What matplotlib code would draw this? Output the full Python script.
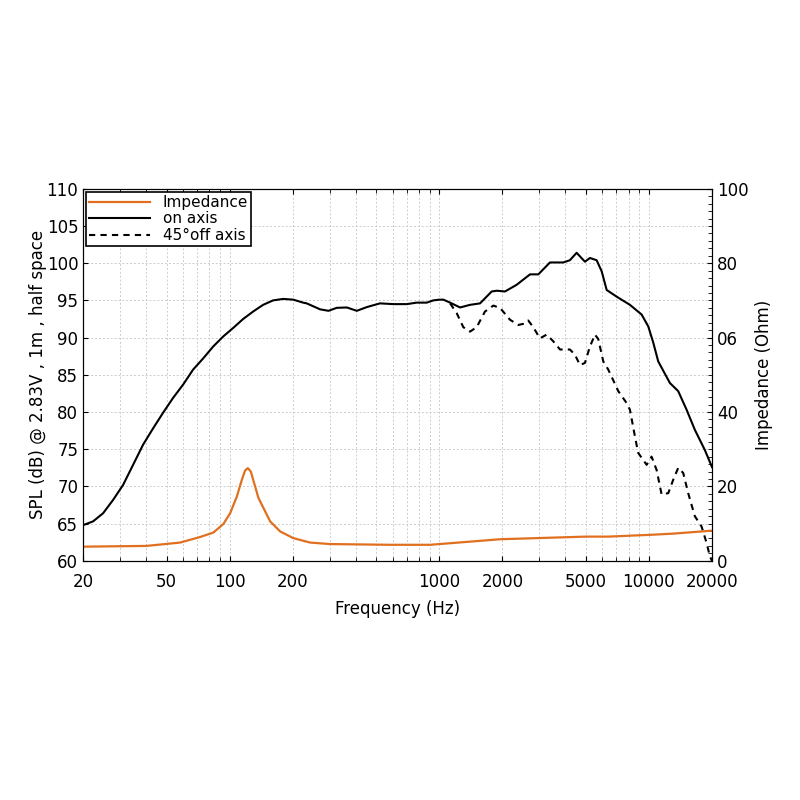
# SPL / impedance chart
import matplotlib.pyplot as plt
import numpy as np
from matplotlib.ticker import FixedLocator, NullFormatter, MultipleLocator

# on axis SPL (dB)
f_on = [20, 22.3, 24.9, 27.8, 31.0, 34.6, 38.6, 43.1, 48.1, 53.7, 60.0, 66.9, 74.7, 83.4,
        93.1, 103.9, 115.9, 129.3, 144.3, 161, 180, 201, 224, 233, 270, 296, 324, 362,
        404, 451, 521, 604, 700, 780, 871, 936, 1000, 1046, 1126, 1256, 1400, 1564, 1778,
        1880, 2058, 2339, 2709, 2968, 3373, 3903, 4198, 4520, 4952, 5232, 5632, 5954,
        6288, 7020, 8120, 9232, 9932, 10496, 11078, 12592, 13800, 15130, 16570, 18480,
        20000]
spl_on = [64.8, 65.3, 66.4, 68.2, 70.2, 72.9, 75.6, 77.8, 79.9, 81.9, 83.7, 85.7, 87.2,
          88.8, 90.15, 91.3, 92.5, 93.5, 94.4, 95.0, 95.2, 95.1, 94.7, 94.6, 93.8, 93.6,
          94.0, 94.05, 93.6, 94.1, 94.6, 94.5, 94.5, 94.7, 94.7, 95.0, 95.1, 95.1, 94.7,
          94.05, 94.4, 94.6, 96.2, 96.3, 96.2, 97.1, 98.5, 98.5, 100.1, 100.1, 100.4,
          101.4, 100.2, 100.7, 100.4, 98.9, 96.4, 95.5, 94.4, 93.1, 91.5, 89.3, 86.8, 83.9,
          82.8, 80.3, 77.6, 74.9, 72.6]

# 45 deg off axis SPL (dB)
f_off = [1126, 1210, 1302, 1400, 1508, 1651, 1810, 1948, 2174, 2382, 2564, 2657, 2807,
         3020, 3252, 3498, 3766, 4198, 4438, 4690, 4952, 5232, 5528, 5734, 6058, 6400,
         7144, 7830, 8120, 8578, 8892, 9754, 10300, 10886, 11500, 12372, 13066, 13800,
         14580, 15394, 16560, 17838, 18848, 19540, 20000]
spl_off = [94.6, 93.3, 91.4, 90.8, 91.4, 93.5, 94.3, 94.0, 92.4, 91.7, 91.9, 92.3, 91.4,
           89.9, 90.4, 89.5, 88.4, 88.4, 87.7, 86.3, 86.6, 88.8, 90.4, 89.8, 86.8, 85.7,
           82.8, 81.2, 80.3, 76.7, 74.5, 72.9, 74.0, 72.2, 68.9, 69.1, 70.9, 72.5, 71.8,
           69.1, 66.0, 64.6, 62.4, 60.6, 60.0]

# impedance (Ohm)
f_imp = [20, 40, 58, 72.3, 83.6, 93.3, 100.5, 108.2, 114.3, 118.5, 122, 126.1, 130.8,
         137.1, 144.9, 155.9, 174, 201, 242, 301, 583, 903, 1960, 5000, 6400, 10300,
         13000, 20000]
imp = [3.8, 4.0, 4.9, 6.4, 7.6, 9.9, 12.8, 17.3, 21.8, 24.3, 24.9, 24.0, 20.9, 16.9,
       14.2, 10.6, 7.9, 6.1, 4.9, 4.5, 4.3, 4.3, 5.8, 6.5, 6.5, 7.0, 7.3, 8.1]

x_ticks = [20, 50, 100, 200, 1000, 2000, 5000, 10000, 20000]
imp_ticks = [0, 20, 40, 60, 80, 100]
imp_labels = ["0", "20", "40", "06", "80", "100"]

orange = "#e0701f"

fig = plt.figure(figsize=(8, 8), dpi=100)
ax = fig.add_axes([0.104, 0.299, 0.786, 0.465])
ax2 = ax.twinx()

l_imp, = ax2.plot(f_imp, imp, color=orange, lw=1.6, label="Impedance")
l_on, = ax.plot(f_on, spl_on, color="black", lw=1.5, label="on axis")
l_off, = ax.plot(f_off, spl_off, color="black", lw=1.5, ls=(0, (3, 2.5)), label="45°off axis")

ax.set_xscale("log")
ax.set_xlim(20, 20000)
ax.set_ylim(60, 110)
ax.xaxis.set_major_locator(FixedLocator(x_ticks))
ax.set_xticklabels([str(t) for t in x_ticks])
ax.xaxis.set_minor_formatter(NullFormatter())
ax.yaxis.set_major_locator(MultipleLocator(5))
ax.grid(True, which="both", axis="x", color="#cccccc", ls=(0, (2, 2)), lw=0.7)
ax.grid(True, which="major", axis="y", color="#cccccc", ls=(0, (2, 2)), lw=0.7)
ax.tick_params(which="both", direction="in", top=True, labelsize=12)
ax.tick_params(axis="x", which="major", pad=9)
ax.tick_params(which="minor", length=3)

ax2.set_ylim(0, 100)
ax2.set_yticks(imp_ticks)
ax2.set_yticklabels(imp_labels)
ax2.yaxis.set_minor_locator(MultipleLocator(2))
ax2.tick_params(which="both", direction="in", labelsize=12)
ax2.tick_params(which="minor", length=3)

ax.set_xlabel("Frequency (Hz)", fontsize=12, labelpad=6)
ax.set_ylabel("SPL (dB) @ 2.83V , 1m , half space", fontsize=12, labelpad=0)
ax2.set_ylabel("Impedance (Ohm)", fontsize=12, labelpad=5)

leg = ax.legend(handles=[l_imp, l_on, l_off], loc="upper left", fontsize=11,
                fancybox=False, framealpha=1, edgecolor="black",
                borderaxespad=0.2, handlelength=4, labelspacing=0.1, borderpad=0.2)
leg.get_frame().set_linewidth(1.2)

fig.savefig("out.png", dpi=100)
